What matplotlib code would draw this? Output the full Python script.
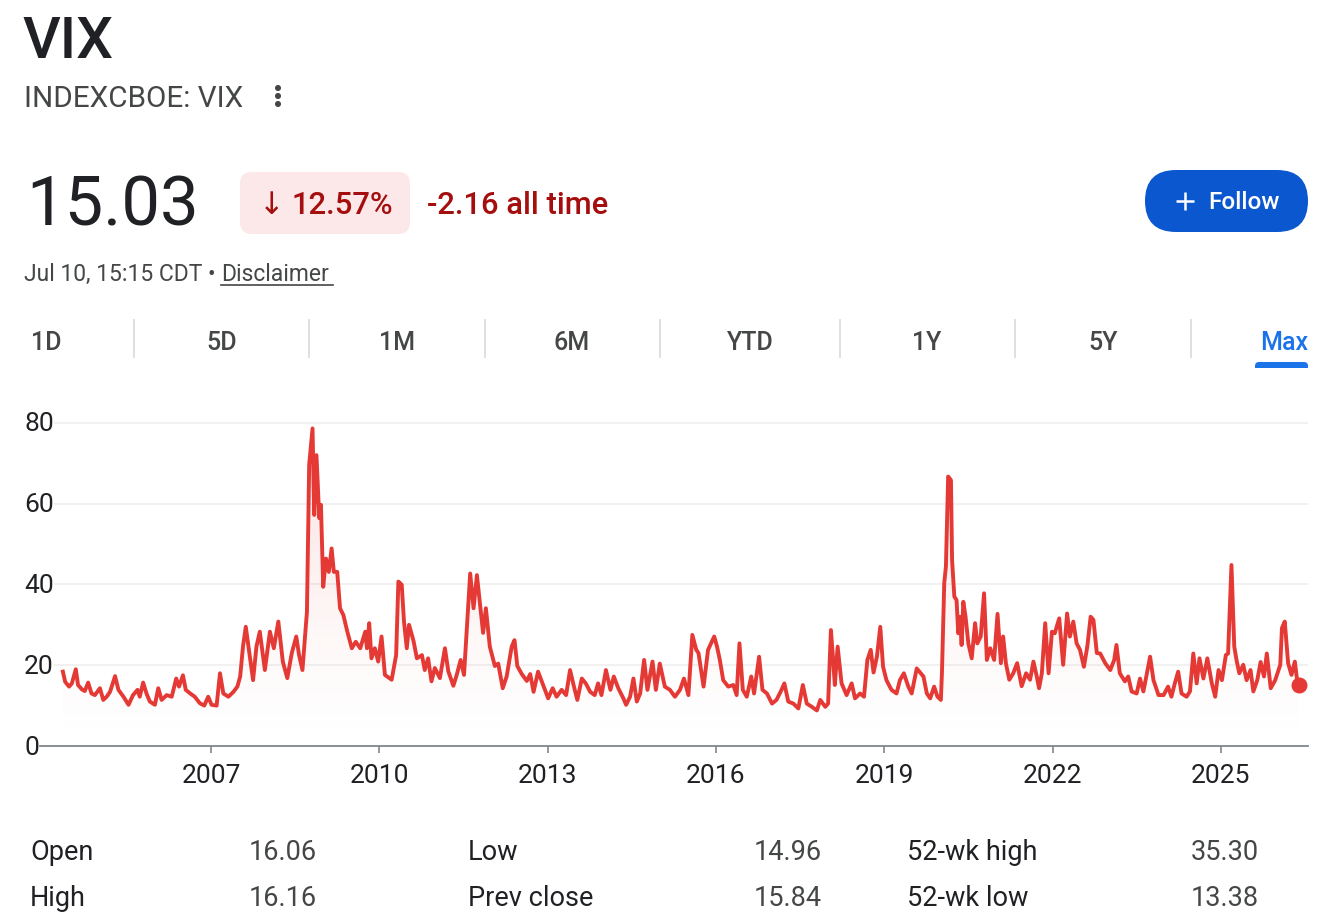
import numpy as np
import matplotlib
matplotlib.use("Agg")
import matplotlib.pyplot as plt
from matplotlib.patches import FancyBboxPatch, Circle, Rectangle

# ---------------- data ----------------
ticker = "VIX"
exchange = "INDEXCBOE: VIX"
price = "15.03"
change_pct = "12.57%"
change_abs = "-2.16 all time"
timestamp = "Jul 10, 15:15 CDT \u2022 "
tabs = ["1D", "5D", "1M", "6M", "YTD", "1Y", "5Y", "Max"]

dates = [
    2004.36, 2004.40, 2004.47, 2004.52, 2004.59, 2004.63, 2004.70, 2004.75, 2004.81, 2004.87, 2004.93,
    2005.02, 2005.08, 2005.14, 2005.20, 2005.29, 2005.35, 2005.44, 2005.53, 2005.61, 2005.69, 2005.73,
    2005.79, 2005.85, 2005.91,
    2006.00, 2006.06, 2006.12, 2006.21, 2006.30, 2006.38, 2006.43, 2006.50, 2006.55, 2006.63, 2006.71,
    2006.80, 2006.88, 2006.95,
    2007.01, 2007.10, 2007.16, 2007.22, 2007.31, 2007.40, 2007.47, 2007.52, 2007.57, 2007.62, 2007.70,
    2007.75, 2007.81, 2007.87, 2007.96,
    2008.05, 2008.12, 2008.20, 2008.28, 2008.36, 2008.44, 2008.52, 2008.57, 2008.63, 2008.71, 2008.75,
    2008.81, 2008.84, 2008.88, 2008.93, 2008.96,
    2009.00, 2009.05, 2009.10, 2009.15, 2009.19, 2009.25, 2009.30, 2009.36, 2009.43, 2009.51, 2009.58,
    2009.66, 2009.75, 2009.78, 2009.82, 2009.86, 2009.92, 2009.98,
    2010.04, 2010.10, 2010.22, 2010.30, 2010.34, 2010.40, 2010.44, 2010.49, 2010.53, 2010.61, 2010.67,
    2010.76, 2010.81, 2010.87, 2010.93, 2010.99,
    2011.08, 2011.17, 2011.23, 2011.32, 2011.38, 2011.45, 2011.51, 2011.62, 2011.68, 2011.74, 2011.85,
    2011.90, 2011.97,
    2012.06, 2012.12, 2012.20, 2012.27, 2012.36, 2012.41, 2012.46, 2012.54, 2012.63, 2012.69, 2012.75,
    2012.83, 2012.92,
    2013.01, 2013.09, 2013.16, 2013.25, 2013.33, 2013.40, 2013.47, 2013.53, 2013.61, 2013.68, 2013.76,
    2013.84, 2013.90, 2013.96,
    2014.04, 2014.12, 2014.18, 2014.26, 2014.35, 2014.40, 2014.47, 2014.53, 2014.59, 2014.65, 2014.72,
    2014.78, 2014.87, 2014.93,
    2015.00, 2015.09, 2015.18, 2015.27, 2015.36, 2015.43, 2015.51, 2015.58, 2015.65, 2015.69, 2015.78,
    2015.86, 2015.97,
    2016.02, 2016.07, 2016.13, 2016.22, 2016.31, 2016.37, 2016.42, 2016.48, 2016.55, 2016.63, 2016.68,
    2016.77, 2016.83, 2016.91,
    2017.00, 2017.08, 2017.17, 2017.22, 2017.29, 2017.38, 2017.47, 2017.55, 2017.62, 2017.71, 2017.80,
    2017.86, 2017.95,
    2018.00, 2018.05, 2018.09, 2018.12, 2018.17, 2018.24, 2018.33, 2018.42, 2018.48, 2018.57, 2018.64,
    2018.70, 2018.76, 2018.81, 2018.87, 2018.93, 2018.98,
    2019.04, 2019.13, 2019.22, 2019.28, 2019.35, 2019.43, 2019.49, 2019.58, 2019.70, 2019.76, 2019.82,
    2019.89, 2019.95,
    2020.01, 2020.03, 2020.07, 2020.10, 2020.14, 2020.19, 2020.21, 2020.25, 2020.29, 2020.32, 2020.35,
    2020.38, 2020.41, 2020.45, 2020.50, 2020.56, 2020.62, 2020.66, 2020.72, 2020.78, 2020.83, 2020.89,
    2020.96,
    2021.02, 2021.08, 2021.12, 2021.17, 2021.23, 2021.30, 2021.37, 2021.45, 2021.53, 2021.60, 2021.66,
    2021.72, 2021.76, 2021.81, 2021.87, 2021.93, 2021.99,
    2022.04, 2022.12, 2022.19, 2022.26, 2022.31, 2022.37, 2022.43, 2022.49, 2022.56, 2022.62, 2022.68,
    2022.73, 2022.79, 2022.85, 2022.94,
    2023.03, 2023.10, 2023.14, 2023.20, 2023.29, 2023.35, 2023.41, 2023.50, 2023.56, 2023.62, 2023.74,
    2023.80, 2023.89, 2023.98,
    2024.06, 2024.12, 2024.18, 2024.24, 2024.30, 2024.39, 2024.45, 2024.51, 2024.57, 2024.62, 2024.69,
    2024.76, 2024.84, 2024.90, 2024.96,
    2025.02, 2025.09, 2025.13, 2025.19, 2025.24, 2025.28, 2025.33, 2025.40, 2025.46, 2025.53, 2025.58,
    2025.65, 2025.71, 2025.77, 2025.82, 2025.89, 2025.97,
    2026.06, 2026.09, 2026.14, 2026.20, 2026.26, 2026.32, 2026.36, 2026.39,
]

vix = [
    18.4, 15.9, 14.7, 15.5, 19.0, 15.1, 14.0, 13.6, 15.7, 13.0, 12.6,
    14.3, 11.4, 12.2, 13.4, 17.3, 13.9, 12.2, 10.2, 12.6, 13.9, 12.2,
    15.7, 13.0, 11.0,
    10.2, 14.3, 11.4, 12.6, 12.2, 16.7, 14.7, 17.5, 13.9, 13.0, 12.2,
    10.6, 10.0, 12.2,
    10.2, 10.0, 18.0, 13.0, 12.2, 13.4, 14.7, 17.2, 24.6, 29.5, 21.3,
    16.3, 24.6, 28.3, 18.8,
    28.3, 24.2, 30.8, 20.9, 16.8, 23.0, 27.1, 22.5, 18.8, 33.2, 69.6,
    78.6, 57.2, 72.0, 56.4, 59.7,
    39.4, 46.4, 43.1, 48.9, 43.1, 43.1, 34.1, 32.4, 28.3, 24.2, 25.8,
    24.2, 28.3, 24.2, 30.4, 21.7, 24.2, 20.9,
    27.1, 17.6, 16.4, 22.5, 40.7, 39.9, 30.8, 24.2, 30.0, 26.0, 21.7,
    22.5, 18.8, 21.7, 16.0, 19.3,
    16.8, 24.2, 18.5, 14.9, 17.6, 21.3, 17.6, 42.7, 34.1, 42.3, 28.0,
    34.1, 24.6,
    19.8, 20.4, 14.3, 17.2, 24.6, 26.2, 19.8, 17.8, 16.1, 17.8, 13.4,
    18.4, 15.1,
    11.8, 14.3, 12.2, 13.9, 12.6, 18.8, 14.7, 11.4, 16.7, 15.5, 13.4,
    12.6, 15.5, 12.6,
    18.8, 13.9, 17.2, 14.3, 11.8, 10.2, 12.2, 16.7, 11.0, 13.0, 21.3,
    13.9, 20.9, 13.9,
    20.4, 14.7, 13.9, 12.2, 13.9, 16.7, 12.6, 27.5, 23.8, 23.0, 14.7,
    23.8, 27.1,
    24.6, 21.3, 16.3, 14.7, 15.1, 12.6, 25.4, 13.9, 12.2, 17.2, 13.0,
    22.1, 13.9, 13.0,
    10.5, 11.4, 13.9, 15.5, 11.0, 10.5, 9.3, 15.1, 10.5, 9.7, 8.8,
    11.4, 9.7,
    10.5, 28.7, 21.3, 15.1, 24.6, 15.5, 12.6, 15.5, 11.8, 13.0, 12.2,
    21.3, 23.8, 18.2, 22.1, 29.5, 19.6,
    16.3, 13.9, 13.0, 16.3, 18.0, 14.7, 13.0, 19.2, 17.2, 13.0, 11.8,
    14.7, 12.2,
    11.4, 18.4, 40.3, 44.4, 66.7, 65.8, 46.0, 37.0, 36.1, 27.9, 32.0,
    25.0, 35.7, 32.0, 25.4, 21.7, 30.4, 25.4, 27.1, 37.8, 21.3, 24.2,
    21.3,
    32.7, 20.5, 27.1, 20.4, 16.4, 18.0, 20.5, 14.8, 18.0, 16.4, 20.9,
    17.2, 14.3, 18.0, 30.4, 18.0, 28.3,
    27.9, 31.6, 20.1, 32.8, 27.1, 30.8, 25.4, 23.8, 19.6, 24.6, 32.0,
    31.2, 23.0, 22.9, 20.5,
    18.8, 21.3, 25.0, 18.0, 16.0, 17.2, 13.5, 13.0, 16.7, 13.5, 22.1,
    16.3, 12.6, 12.6,
    14.7, 12.2, 15.5, 18.4, 13.0, 12.2, 13.5, 22.9, 15.5, 21.7, 16.7,
    21.7, 15.5, 12.2, 18.8,
    16.3, 22.5, 22.9, 44.8, 24.6, 21.3, 18.0, 20.1, 16.3, 18.8, 13.5,
    16.3, 20.8, 17.2, 22.9, 14.3, 16.3,
    20.1, 29.2, 30.8, 20.5, 17.6, 20.9, 16.3, 15.03,
]

year_ticks = [2007, 2010, 2013, 2016, 2019, 2022, 2025]
value_ticks = [0, 20, 40, 60, 80]

stats_labels_1 = ["Open", "Low", "52-wk high"]
stats_values_1 = ["16.06", "14.96", "35.30"]
stats_labels_2 = ["High", "Prev close", "52-wk low"]
stats_values_2 = ["16.16", "15.84", "13.38"]

# ---------------- figure ----------------
W, H = 1320, 924
FONT = ["Roboto", "DejaVu Sans"]
plt.rcParams["font.family"] = FONT
fig = plt.figure(figsize=(W / 100, H / 100), dpi=100)
fig.patch.set_facecolor("white")

# overlay axes in pixel coordinates
bg = fig.add_axes([0, 0, 1, 1])
bg.set_xlim(0, W)
bg.set_ylim(H, 0)
bg.axis("off")

RED = "#e53935"
DARK = "#202124"
GREY = "#444746"
DRED = "#a50e0e"
BLUE = "#0b57d0"
TABBLUE = "#1a73e8"

bg.text(22, 58, ticker, fontsize=42, fontweight="medium", color=DARK, va="baseline", ha="left")
bg.text(24, 107, exchange, fontsize=21.3, color=GREY, va="baseline", ha="left")
for cy in (88, 96, 104):
    bg.add_patch(Circle((278, cy), 2.3, color=GREY))

bg.text(26, 226, price, fontsize=49.5, color=DARK, va="baseline", ha="left")

bg.add_patch(FancyBboxPatch((240, 172), 170, 62, boxstyle="round,pad=0,rounding_size=12",
                            facecolor="#fce8e8", edgecolor="none"))
bg.text(259, 214, "\u2193", fontsize=22, color=DRED, va="baseline", ha="left",
        family=["DejaVu Sans"])
bg.text(292, 214, change_pct, fontsize=22.3, fontweight="medium", color=DRED, va="baseline", ha="left")
bg.text(427, 214, change_abs, fontsize=22.3, fontweight="medium", color=DRED, va="baseline", ha="left")

bg.add_patch(FancyBboxPatch((1145, 170), 163, 62, boxstyle="round,pad=0,rounding_size=31",
                            facecolor=BLUE, edgecolor="none"))
bg.plot([1176, 1194], [201, 201], color="white", lw=1.8, solid_capstyle="butt")
bg.plot([1185, 1185], [192, 210], color="white", lw=1.8, solid_capstyle="butt")
bg.text(1208, 209, "Follow", fontsize=17.5, fontweight="medium", color="white",
        va="baseline", ha="left")

bg.text(24, 281, timestamp, fontsize=16.5, color=GREY, va="baseline", ha="left")
bg.text(221, 281, "Disclaimer", fontsize=16.5, color=GREY, va="baseline", ha="left")
bg.plot([221, 333], [285, 285], color=GREY, lw=1.2)

tab_centers = [47, 221.5, 397, 572, 750, 927, 1103, 1281]
for lab, cx in zip(tabs, tab_centers):
    col = TABBLUE if lab == "Max" else GREY
    if lab == "1D":
        bg.text(31, 350, lab, fontsize=18, fontweight="medium", color=col, va="baseline", ha="left")
    elif lab == "Max":
        bg.text(1308, 350, lab, fontsize=18, fontweight="medium", color=col, va="baseline", ha="right")
    else:
        bg.text(cx, 350, lab, fontsize=18, fontweight="medium", color=col, va="baseline", ha="center")
for sx in [134, 309, 485, 660, 840, 1015, 1191]:
    bg.plot([sx, sx], [320, 357], color="#dadce0", lw=1.3)
bg.add_patch(FancyBboxPatch((1255, 362), 53, 9, boxstyle="round,pad=0,rounding_size=4",
                            facecolor=TABBLUE, edgecolor="none"))
bg.add_patch(Rectangle((1255, 368), 53, 4, facecolor="white", edgecolor="none"))

# stats table
cols_lab = [30, 468, 907]
cols_val = [249, 754, 1191]
for i in range(3):
    bg.text(cols_lab[i], 860, stats_labels_1[i], fontsize=19.5, color=DARK, va="baseline", ha="left")
    bg.text(cols_val[i], 860, stats_values_1[i], fontsize=19.5, color=GREY, va="baseline", ha="left")
    bg.text(cols_lab[i], 906, stats_labels_2[i], fontsize=19.5, color=DARK, va="baseline", ha="left")
    bg.text(cols_val[i], 906, stats_values_2[i], fontsize=19.5, color=GREY, va="baseline", ha="left")

# ---------------- chart ----------------
px_left, px_right, px_top, px_bottom = 40, 1308, 410, 746
ax = fig.add_axes([px_left / W, 1 - px_bottom / H, (px_right - px_left) / W, (px_bottom - px_top) / H])
ax.patch.set_alpha(0)
x0 = 2007 + (px_left - 211) / 56.1
x1 = 2007 + (px_right - 211) / 56.1
ytop = (px_bottom - px_top) / 4.04
ax.set_xlim(x0, x1)
ax.set_ylim(0, ytop)

for v in value_ticks[1:]:
    ax.axhline(v, xmin=0.012, xmax=1, color="#f0f0f0", lw=1.3, zorder=0)
for v in value_ticks:
    ax.text(-0.0126, v - 0.4, str(v), transform=ax.get_yaxis_transform(), ha="left", va="center",
            fontsize=19, color=DARK, clip_on=False)

# gradient fill
poly = ax.fill_between(dates, vix, 0, color="none", lw=0)
path = poly.get_paths()[0]
grad = np.zeros((256, 1, 4))
rgb = matplotlib.colors.to_rgb(RED)
grad[..., 0], grad[..., 1], grad[..., 2] = rgb
grad[:, 0, 3] = np.linspace(0, 1, 256) ** 1.3 * 0.16
im = ax.imshow(grad, extent=[x0, x1, 0, 80], origin="lower", aspect="auto", zorder=1,
               interpolation="bilinear")
im.set_clip_path(path, transform=ax.transData)
ax.set_xlim(x0, x1)
ax.set_ylim(0, ytop)

ax.plot(dates, vix, color=RED, lw=2.8, solid_joinstyle="round", zorder=3)
ax.plot([dates[-1]], [vix[-1]], "o", color=RED, markersize=10.5, zorder=4)

for s in ("left", "right", "top"):
    ax.spines[s].set_visible(False)
ax.spines["bottom"].set_color("#80868b")
ax.spines["bottom"].set_linewidth(1.3)
ax.set_yticks([])
ax.set_xticks(year_ticks)
ax.set_xticklabels([str(y) for y in year_ticks])
ax.tick_params(axis="x", direction="out", length=5, width=1.2, color="#80868b",
               labelsize=19, labelcolor=DARK, pad=8)
for lab in ax.get_xticklabels():
    lab.set_family(FONT)

fig.savefig("out.png", dpi=100, facecolor="white")
